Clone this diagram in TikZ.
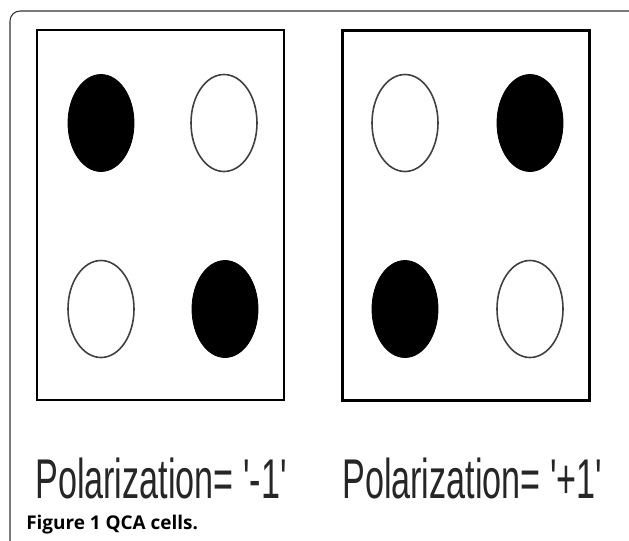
\documentclass[tikz,border=0pt]{standalone}
\usepackage{fontspec}
\usetikzlibrary{shapes.geometric}
\newfontfamily\narrowfont[FakeStretch=0.61]{Liberation Sans}
\newfontfamily\capfont{Open Sans}
\tikzset{
  cellbox/.style={draw, line width=1.6pt, rectangle, inner sep=0pt,
    minimum width=185.25pt, minimum height=277.5pt},
  fulldot/.style={ellipse, fill=black, draw=black, line width=0.6pt, inner sep=0pt,
    minimum width=49.5pt, minimum height=72.75pt},
  emptydot/.style={ellipse, draw=black!75, line width=1.2pt, inner sep=0pt,
    minimum width=49.5pt, minimum height=72.75pt},
  pollabel/.style={anchor=base west, inner sep=0pt, text=black!85,
    font=\narrowfont\fontsize{42}{48}\selectfont}
}

\begin{document}
\begin{tikzpicture}[x=0.75pt, y=-0.75pt]
    \useasboundingbox (0,0) rectangle (629,540);
    % outer frame, open at the bottom and right
    \begin{scope}
      \clip (0,0) rectangle (629,540);
      \draw[black!80, line width=0.8pt, rounded corners=7.5pt] (10,560) -- (10,11) -- (640,11) -- (640,560);
    \end{scope}

    % Cells
    \node[cellbox] (cellA) at (160.5,215) {};
    \node[cellbox] (cellB) at (466,215.5) {};

    % Dots of the left cell (polarization -1)
    \node[fulldot]  (a1) at (101,123) {};
    \node[emptydot] (a2) at (224,123) {};
    \node[emptydot] (a3) at (101,309) {};
    \node[fulldot]  (a4) at (225,309) {};

    % Dots of the right cell (polarization +1)
    \node[emptydot] (b1) at (405,123) {};
    \node[fulldot]  (b2) at (530,123) {};
    \node[fulldot]  (b3) at (405,309) {};
    \node[emptydot] (b4) at (530,309) {};

    % Labels
    \node[pollabel] (labA) at (35,498) {Polarization= '-1'};
    \node[pollabel] (labB) at (342,498) {Polarization= '+1'};

    % Caption
    \node[anchor=base west, inner sep=0pt, font=\capfont\bfseries\fontsize{14.2}{17}\selectfont] (caption) at (26,529) {Figure 1 QCA cells.};
\end{tikzpicture}
\end{document}
